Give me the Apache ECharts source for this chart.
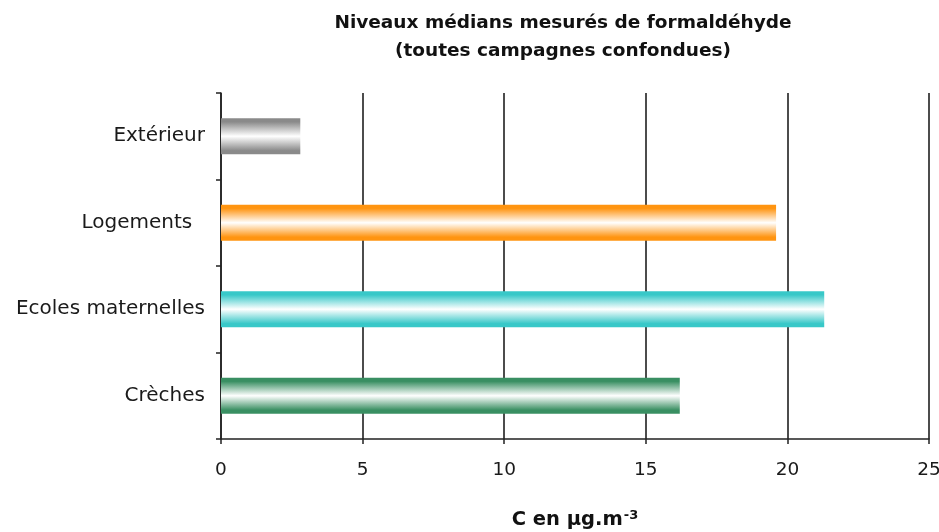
<!DOCTYPE html>
<html>
<head>
<meta charset="utf-8">
<script src="https://cdn.jsdelivr.net/npm/echarts@6/dist/echarts.min.js"></script>
<style>
  html, body { margin: 0; padding: 0; background: #fff; }
  #chart { width: 939px; height: 532px; }
</style>
</head>
<body>
<div id="chart"></div>
<script>
// Median formaldehyde levels by environment (µg/m³)
const categories = ['Extérieur', 'Logements  ', 'Ecoles maternelles', 'Crèches'];
const medians = [2.8, 19.6, 21.3, 16.2];
const barColors = ['#8a8a8a', '#ff9410', '#38c8c8', '#398f62'];
const xTicks = { min: 0, max: 25, interval: 5 };

const chart = echarts.init(document.getElementById('chart'));

// Tube-like fill: solid colour at both edges, white through the middle
function tube(c) {
  return new echarts.graphic.LinearGradient(0, 0, 0, 1, [
    { offset: 0, color: c },
    { offset: 0.1, color: c },
    { offset: 0.5, color: '#ffffff' },
    { offset: 0.9, color: c },
    { offset: 1, color: c }
  ]);
}

chart.setOption({
  animation: false,
  backgroundColor: '#ffffff',
  title: {
    text: 'Niveaux médians mesurés de formaldéhyde\n(toutes campagnes confondues)',
    left: 558,
    textAlign: 'center',
    top: 4,
    textStyle: {
      fontFamily: 'DejaVu Sans',
      fontWeight: 'bold',
      fontSize: 18.5,
      lineHeight: 28,
      color: '#111111'
    }
  },
  grid: { left: 221, right: 10, top: 93, bottom: 93, outerBoundsMode: 'none' },
  xAxis: {
    type: 'value',
    min: xTicks.min,
    max: xTicks.max,
    interval: xTicks.interval,
    name: '{a|C en µg.m}{s|-3}',
    nameLocation: 'middle',
    nameGap: 70,
    nameTextStyle: {
      rich: {
        a: { fontFamily: 'DejaVu Sans', fontWeight: 'bold', fontSize: 19.5, color: '#111' },
        s: { fontFamily: 'DejaVu Sans', fontWeight: 'bold', fontSize: 13, color: '#111', verticalAlign: 'top', padding: [0, 0, 9, 1] }
      }
    },
    axisLine: { show: true, lineStyle: { color: '#222', width: 1.5 } },
    axisTick: { show: true, length: 5, lineStyle: { color: '#222', width: 1.5 } },
    axisLabel: { margin: 22, fontFamily: 'DejaVu Sans', fontSize: 18.5, color: '#1a1a1a' },
    splitLine: { show: true, lineStyle: { color: '#111', width: 1.5 } }
  },
  yAxis: {
    type: 'category',
    data: categories,
    inverse: true,
    axisLine: { show: true, lineStyle: { color: '#222', width: 1.5 } },
    axisTick: { show: true, length: 5, lineStyle: { color: '#222', width: 1.5 } },
    axisLabel: { margin: 16, fontFamily: 'DejaVu Sans', fontSize: 20, color: '#1a1a1a' },
    splitLine: { show: false }
  },
  series: [{
    type: 'bar',
    barWidth: 36,
    data: medians.map((v, i) => ({ value: v, itemStyle: { color: tube(barColors[i]) } }))
  }]
});
</script>
</body>
</html>
